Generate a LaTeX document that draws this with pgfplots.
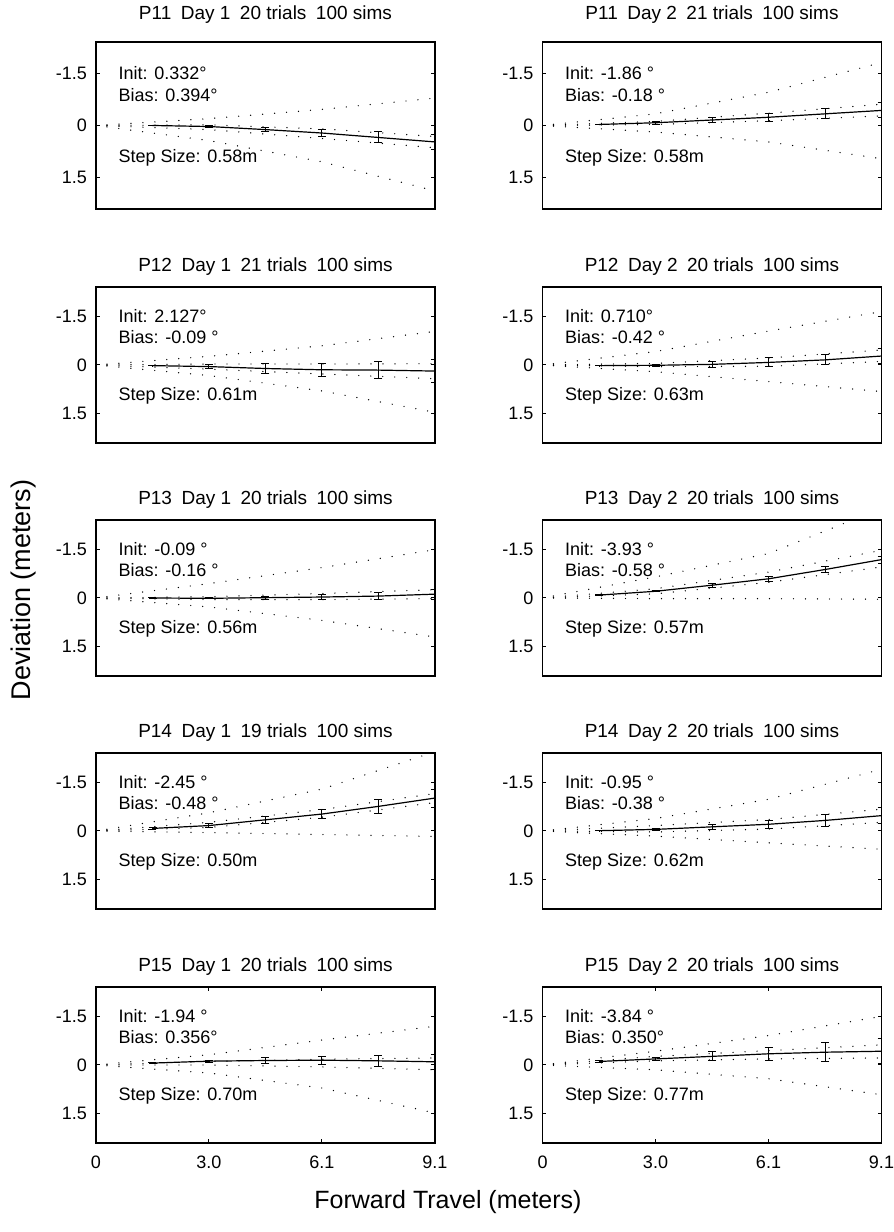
\documentclass[border=0pt]{standalone}
\usepackage{fontspec}
\setmainfont{Liberation Sans}
\usepackage{pgfplots}
\pgfplotsset{compat=1.18}
\pgfplotsset{
  panel/.style={
    scale only axis, width=169.5pt, height=78pt, anchor=south west,
    xmin=0, xmax=9.144, ymin=-2.4384, ymax=2.4384, y dir=reverse,
    ytick={-1.524,0,1.524}, yticklabels={-1.5,0,1.5},
    xtick=\empty,
    axis line style={line width=0.9pt},
    major tick length=1.8pt, tick style={line width=0.5pt, black},
    tick align=inside,
    ticklabel style={font=\fontsize{9}{10}\selectfont},
    /pgf/number format/assume math mode=true,
    yticklabel style={xshift=-1pt},
    title style={at={(0.5,1)}, anchor=base, yshift=1.5pt, inner sep=0pt, font=\fontsize{9.5}{11}\selectfont},
  },
  toprow/.style={height=83.5pt, title style={yshift=3.5pt}},
  bottomrow/.style={xtick={0,3.048,6.096,9.144}, xticklabels={0,3.0,6.1,9.1},
    xticklabel style={yshift=-3pt}},
  dots/.style={black, line width=0.7pt, line cap=round, dash pattern=on 0pt off 6pt, dash phase=0.5pt, forget plot},
  mean/.style={black, line width=0.6pt, mark=none,
    error bars/.cd, y dir=both, y explicit,
    error mark options={rotate=90, mark size=2pt, line width=0.5pt, black},
    error bar style={line width=0.5pt, black}},
}
\newcommand{\ptext}[3]{%
  \node[anchor=west, inner sep=0pt, font=\fontsize{9}{10}\selectfont] at (axis cs:0.6,-1.524) {#1};
  \node[anchor=west, inner sep=0pt, font=\fontsize{9}{10}\selectfont] at (axis cs:0.6,-0.88) {#2};
  \node[anchor=west, inner sep=0pt, font=\fontsize{9}{10}\selectfont] at (axis cs:0.6,0.95) {#3};}
\begin{document}
\begin{tikzpicture}
\path[use as bounding box] (0pt,0pt) rectangle (447pt,616pt);
% ---------- Row 1 ----------
\begin{axis}[panel, toprow, at={(48pt,511.5pt)}, title={P11\enspace Day 1\enspace 20 trials\enspace 100 sims}]
\addplot[dots] coordinates {(0,0) (3.048,-0.20) (6.096,-0.47) (9.144,-0.80)};
\addplot[dots] coordinates {(0,0) (3.048,-0.02) (6.096,0.10) (9.144,0.32)};
\addplot[dots] coordinates {(0,0) (3.048,0.12) (6.096,0.38) (9.144,0.65)};
\addplot[dots] coordinates {(0,0) (3.048,0.44) (6.096,1.06) (9.144,1.91)};
\addplot[mean] coordinates {(1.524,0.00) +- (0,0.01) (3.048,0.03) +- (0,0.04) (4.572,0.12) +- (0,0.06) (6.096,0.22) +- (0,0.10) (7.620,0.35) +- (0,0.16) (9.144,0.48) +- (0,0.22)};
\ptext{Init: 0.332°}{Bias: 0.394°}{Step Size: 0.58m}
\end{axis}
\begin{axis}[panel, toprow, at={(271.25pt,511.5pt)}, title={P11\enspace Day 2\enspace 21 trials\enspace 100 sims}]
\addplot[dots] coordinates {(0,0) (3.048,-0.34) (6.096,-0.97) (9.144,-1.84)};
\addplot[dots] coordinates {(0,0) (3.048,-0.12) (6.096,-0.36) (9.144,-0.62)};
\addplot[dots] coordinates {(0,0) (3.048,-0.03) (6.096,-0.14) (9.144,-0.28)};
\addplot[dots] coordinates {(0,0) (3.048,0.19) (6.096,0.48) (9.144,0.97)};
\addplot[mean] coordinates {(1.524,-0.03) +- (0,0.01) (3.048,-0.08) +- (0,0.04) (4.572,-0.16) +- (0,0.08) (6.096,-0.24) +- (0,0.12) (7.620,-0.34) +- (0,0.145) (9.144,-0.44) +- (0,0.22)};
\ptext{Init: -1.86 °}{Bias: -0.18 °}{Step Size: 0.58m}
\end{axis}
% ---------- Row 2 ----------
\begin{axis}[panel, at={(48pt,394.5pt)}, title={P12\enspace Day 1\enspace 21 trials\enspace 100 sims}]
\addplot[dots] coordinates {(0,0) (3.048,-0.27) (6.096,-0.60) (9.144,-1.05)};
\addplot[dots] coordinates {(0,0) (3.048,-0.03) (6.096,-0.03) (9.144,-0.04)};
\addplot[dots] coordinates {(0,0) (3.048,0.13) (6.096,0.28) (9.144,0.43)};
\addplot[dots] coordinates {(0,0) (3.048,0.33) (6.096,0.81) (9.144,1.48)};
\addplot[mean] coordinates {(1.524,0.02) +- (0,0.01) (3.048,0.05) +- (0,0.07) (4.572,0.11) +- (0,0.15) (6.096,0.15) +- (0,0.21) (7.620,0.16) +- (0,0.27) (9.144,0.19) +- (0,0.36)};
\ptext{Init: 2.127°}{Bias: -0.09 °}{Step Size: 0.61m}
\end{axis}
\begin{axis}[panel, at={(271.25pt,394.5pt)}, title={P12\enspace Day 2\enspace 20 trials\enspace 100 sims}]
\addplot[dots] coordinates {(0,0) (3.048,-0.42) (6.096,-1.06) (9.144,-1.67)};
\addplot[dots] coordinates {(0,0) (3.048,-0.05) (6.096,-0.22) (9.144,-0.47)};
\addplot[dots] coordinates {(0,0) (3.048,0.05) (6.096,0.04) (9.144,-0.11)};
\addplot[dots] coordinates {(0,0) (3.048,0.21) (6.096,0.52) (9.144,0.83)};
\addplot[mean] coordinates {(1.524,0.02) +- (0,0.01) (3.048,0.01) +- (0,0.03) (4.572,-0.02) +- (0,0.09) (6.096,-0.08) +- (0,0.14) (7.620,-0.16) +- (0,0.16) (9.144,-0.28) +- (0,0.22)};
\ptext{Init: 0.710°}{Bias: -0.42 °}{Step Size: 0.63m}
\end{axis}
% ---------- Row 3 ----------
\begin{axis}[panel, at={(48pt,278pt)}, title={P13\enspace Day 1\enspace 20 trials\enspace 100 sims}]
\addplot[dots] coordinates {(0,0) (3.048,-0.45) (6.096,-0.95) (9.144,-1.51)};
\addplot[dots] coordinates {(0,0) (3.048,-0.04) (6.096,-0.14) (9.144,-0.26)};
\addplot[dots] coordinates {(0,0) (3.048,0.05) (6.096,0.05) (9.144,0.02)};
\addplot[dots] coordinates {(0,0) (3.048,0.28) (6.096,0.70) (9.144,1.22)};
\addplot[mean] coordinates {(1.524,0.00) +- (0,0.01) (3.048,0.01) +- (0,0.02) (4.572,-0.01) +- (0,0.05) (6.096,-0.03) +- (0,0.09) (7.620,-0.06) +- (0,0.12) (9.144,-0.12) +- (0,0.16)};
\ptext{Init: -0.09 °}{Bias: -0.16 °}{Step Size: 0.56m}
\end{axis}
\begin{axis}[panel, at={(271.25pt,278pt)}, title={P13\enspace Day 2\enspace 20 trials\enspace 100 sims}]
\addplot[dots] coordinates {(0,0) (3.048,-0.66) (6.096,-1.39) (9.144,-2.80)};
\addplot[dots] coordinates {(0,0) (3.048,-0.29) (6.096,-0.81) (9.144,-1.49)};
\addplot[dots] coordinates {(0,0) (3.048,-0.13) (6.096,-0.49) (9.144,-0.97)};
\addplot[dots] coordinates {(0,0) (3.048,0.02) (6.096,0.02) (9.144,0.04)};
\addplot[mean] coordinates {(1.524,-0.09) +- (0,0.01) (3.048,-0.21) +- (0,0.02) (4.572,-0.40) +- (0,0.06) (6.096,-0.60) +- (0,0.07) (7.620,-0.89) +- (0,0.08) (9.144,-1.20) +- (0,0.11)};
\ptext{Init: -3.93 °}{Bias: -0.58 °}{Step Size: 0.57m}
\end{axis}
% ---------- Row 4 ----------
\begin{axis}[panel, at={(48pt,161.5pt)}, title={P14\enspace Day 1\enspace 19 trials\enspace 100 sims}]
\addplot[dots] coordinates {(0,0) (3.048,-0.57) (6.096,-1.31) (9.144,-2.48)};
\addplot[dots] coordinates {(0,0) (3.048,-0.27) (6.096,-0.67) (9.144,-1.17)};
\addplot[dots] coordinates {(0,0) (3.048,-0.11) (6.096,-0.43) (9.144,-0.89)};
\addplot[dots] coordinates {(0,0) (3.048,0.05) (6.096,0.11) (9.144,0.17)};
\addplot[mean] coordinates {(1.524,-0.08) +- (0,0.02) (3.048,-0.17) +- (0,0.05) (4.572,-0.35) +- (0,0.11) (6.096,-0.53) +- (0,0.15) (7.620,-0.77) +- (0,0.21) (9.144,-1.03) +- (0,0.28)};
\ptext{Init: -2.45 °}{Bias: -0.48 °}{Step Size: 0.50m}
\end{axis}
\begin{axis}[panel, at={(271.25pt,161.5pt)}, title={P14\enspace Day 2\enspace 20 trials\enspace 100 sims}]
\addplot[dots] coordinates {(0,0) (3.048,-0.39) (6.096,-0.99) (9.144,-1.93)};
\addplot[dots] coordinates {(0,0) (3.048,-0.17) (6.096,-0.36) (9.144,-0.68)};
\addplot[dots] coordinates {(0,0) (3.048,0.03) (6.096,-0.06) (9.144,-0.27)};
\addplot[dots] coordinates {(0,0) (3.048,0.16) (6.096,0.37) (9.144,0.57)};
\addplot[mean] coordinates {(1.524,-0.01) +- (0,0.01) (3.048,-0.05) +- (0,0.02) (4.572,-0.13) +- (0,0.08) (6.096,-0.21) +- (0,0.13) (7.620,-0.33) +- (0,0.19) (9.144,-0.48) +- (0,0.25)};
\ptext{Init: -0.95 °}{Bias: -0.38 °}{Step Size: 0.62m}
\end{axis}
% ---------- Row 5 ----------
\begin{axis}[panel, bottomrow, at={(48pt,44.5pt)}, title={P15\enspace Day 1\enspace 20 trials\enspace 100 sims}]
\addplot[dots] coordinates {(0,0) (3.048,-0.32) (6.096,-0.78) (9.144,-1.21)};
\addplot[dots] coordinates {(0,0) (3.048,-0.11) (6.096,-0.18) (9.144,-0.22)};
\addplot[dots] coordinates {(0,0) (3.048,0.00) (6.096,0.06) (9.144,0.15)};
\addplot[dots] coordinates {(0,0) (3.048,0.25) (6.096,0.72) (9.144,1.50)};
\addplot[mean] coordinates {(1.524,-0.06) +- (0,0.02) (3.048,-0.12) +- (0,0.03) (4.572,-0.14) +- (0,0.08) (6.096,-0.15) +- (0,0.13) (7.620,-0.13) +- (0,0.18) (9.144,-0.10) +- (0,0.23)};
\ptext{Init: -1.94 °}{Bias: 0.356°}{Step Size: 0.70m}
\end{axis}
\begin{axis}[panel, bottomrow, at={(271.25pt,44.5pt)}, title={P15\enspace Day 2\enspace 20 trials\enspace 100 sims}]
\addplot[dots] coordinates {(0,0) (3.048,-0.43) (6.096,-0.92) (9.144,-1.52)};
\addplot[dots] coordinates {(0,0) (3.048,-0.27) (6.096,-0.45) (9.144,-0.63)};
\addplot[dots] coordinates {(0,0) (3.048,-0.13) (6.096,-0.19) (9.144,-0.22)};
\addplot[dots] coordinates {(0,0) (3.048,0.15) (6.096,0.43) (9.144,0.93)};
\addplot[mean] coordinates {(1.524,-0.11) +- (0,0.02) (3.048,-0.19) +- (0,0.04) (4.572,-0.27) +- (0,0.14) (6.096,-0.35) +- (0,0.21) (7.620,-0.40) +- (0,0.29) (9.144,-0.43) +- (0,0.39)};
\ptext{Init: -3.84 °}{Bias: 0.350°}{Step Size: 0.77m}
\end{axis}
% ---------- axis labels ----------
\node[rotate=90, font=\fontsize{13.5}{15}\selectfont] at (12pt,321pt) {Deviation (meters)};
\node[font=\fontsize{12.5}{14}\selectfont] at (224pt,15pt) {Forward Travel (meters)};
\end{tikzpicture}
\end{document}
